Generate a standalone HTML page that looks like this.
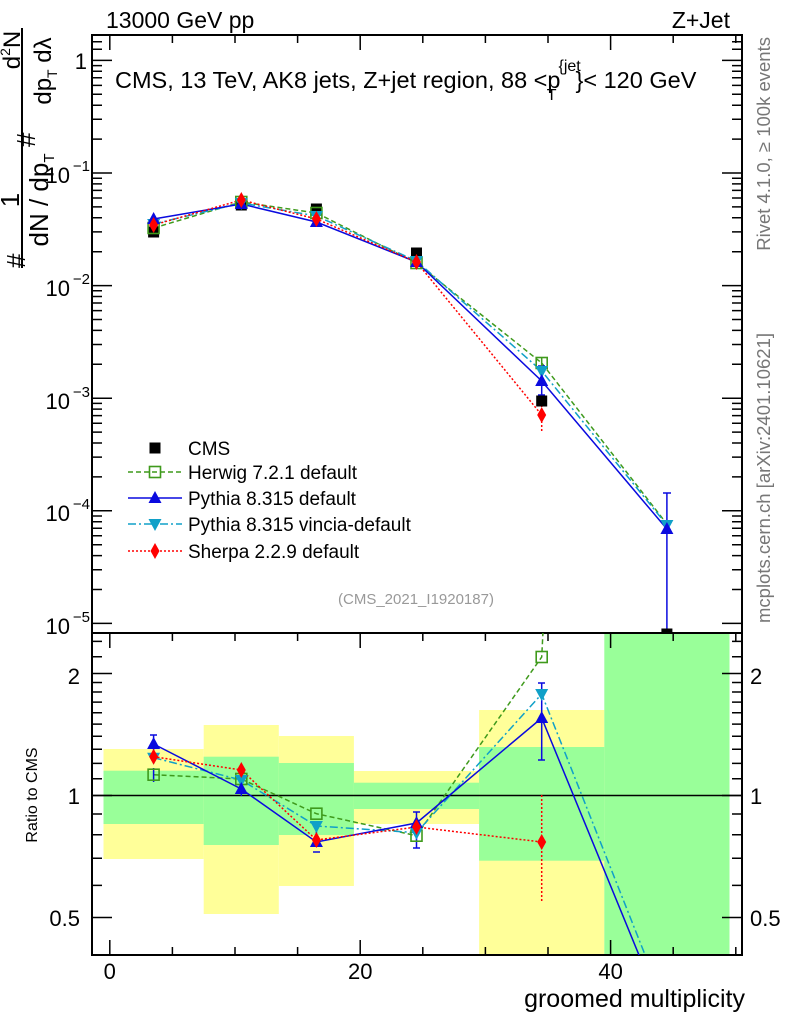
<!DOCTYPE html>
<html><head><meta charset="utf-8"><style>
html,body{margin:0;padding:0;background:#fff;}
svg{display:block;font-family:"Liberation Sans",sans-serif;}
</style></head><body>
<svg width="786" height="1024" viewBox="0 0 786 1024" xmlns="http://www.w3.org/2000/svg">
<defs>
<clipPath id="cm"><rect x="92" y="35" width="650" height="598"/></clipPath>
<clipPath id="cr"><rect x="92" y="633" width="650" height="322"/></clipPath>
<g id="mCMS"><rect x="-5.5" y="-5.5" width="11" height="11" fill="#000"/></g>
<g id="mH"><rect x="-5.5" y="-5.5" width="11" height="11" fill="none" stroke="#3f9a1c" stroke-width="1.6"/></g>
<g id="mP"><path d="M0,-7 L6.5,5 L-6.5,5Z" fill="#0a0adf"/></g>
<g id="mV"><path d="M0,7 L6.5,-5 L-6.5,-5Z" fill="#10a0c8"/></g>
<g id="mS"><path d="M0,-8 L4.5,0 L0,8 L-4.5,0Z" fill="#f00"/></g>
</defs>

<g clip-path="url(#cr)">
<rect x="103.5" y="749" width="100.2" height="110" fill="#ffff99"/>
<rect x="203.7" y="725" width="75.1" height="189" fill="#ffff99"/>
<rect x="278.8" y="736" width="75.1" height="150" fill="#ffff99"/>
<rect x="353.9" y="771" width="125.2" height="53" fill="#ffff99"/>
<rect x="479.1" y="710" width="125.2" height="250" fill="#ffff99"/>
<rect x="103.5" y="770.7" width="100.2" height="53.3" fill="#99ff99"/>
<rect x="203.7" y="756.7" width="75.1" height="88.3" fill="#99ff99"/>
<rect x="278.8" y="763" width="75.1" height="72" fill="#99ff99"/>
<rect x="353.9" y="782.7" width="125.2" height="26.3" fill="#99ff99"/>
<rect x="479.1" y="747" width="125.2" height="113.7" fill="#99ff99"/>
<rect x="604.3" y="633" width="125.2" height="322" fill="#99ff99"/>
</g>

<rect x="92" y="35" width="650" height="598" fill="none" stroke="#000" stroke-width="2"/>
<rect x="92" y="633" width="650" height="322" fill="none" stroke="#000" stroke-width="2"/>
<line x1="92" y1="795.5" x2="742" y2="795.5" stroke="#000" stroke-width="1.5"/>

<g stroke="#000" stroke-width="1.5">
<path d="M109.8,35v15M360.2,35v15M610.6,35v15M172.4,35v8M235,35v8M297.6,35v8M422.8,35v8M485.4,35v8M548,35v8M673.2,35v8M735.8,35v8"/>
<path d="M109.8,633v15M360.2,633v15M610.6,633v15M172.4,633v8M235,633v8M297.6,633v8M422.8,633v8M485.4,633v8M548,633v8M673.2,633v8M735.8,633v8"/>
<path d="M109.8,955v-15M360.2,955v-15M610.6,955v-15M172.4,955v-8M235,955v-8M297.6,955v-8M422.8,955v-8M485.4,955v-8M548,955v-8M673.2,955v-8M735.8,955v-8"/>
</g>

<g stroke="#000" stroke-width="1.5">
<path d="M92,60.4h20M92,173h20M92,285.6h20M92,398.2h20M92,510.8h20M92,623.4h20"/>
<path d="M742,60.4h-20M742,173h-20M742,285.6h-20M742,398.2h-20M742,510.8h-20M742,623.4h-20"/>
<path d="M92,139.1h10M92,119.3h10M92,105.2h10M92,94.3h10M92,85.4h10M92,77.8h10M92,71.3h10M92,65.6h10
M92,251.7h10M92,231.9h10M92,217.8h10M92,206.9h10M92,198h10M92,190.4h10M92,183.9h10M92,178.2h10
M92,364.3h10M92,344.5h10M92,330.4h10M92,319.5h10M92,310.6h10M92,303h10M92,296.5h10M92,290.8h10
M92,476.9h10M92,457.1h10M92,443h10M92,432.1h10M92,423.2h10M92,415.6h10M92,409.1h10M92,403.4h10
M92,589.5h10M92,569.7h10M92,555.6h10M92,544.7h10M92,535.8h10M92,528.2h10M92,521.7h10M92,516h10
M92,49.3h10M92,41.7h10"/>
<path d="M742,139.1h-10M742,119.3h-10M742,105.2h-10M742,94.3h-10M742,85.4h-10M742,77.8h-10M742,71.3h-10M742,65.6h-10
M742,251.7h-10M742,231.9h-10M742,217.8h-10M742,206.9h-10M742,198h-10M742,190.4h-10M742,183.9h-10M742,178.2h-10
M742,364.3h-10M742,344.5h-10M742,330.4h-10M742,319.5h-10M742,310.6h-10M742,303h-10M742,296.5h-10M742,290.8h-10
M742,476.9h-10M742,457.1h-10M742,443h-10M742,432.1h-10M742,423.2h-10M742,415.6h-10M742,409.1h-10M742,403.4h-10
M742,589.5h-10M742,569.7h-10M742,555.6h-10M742,544.7h-10M742,535.8h-10M742,528.2h-10M742,521.7h-10M742,516h-10
M742,49.3h-10M742,41.7h-10"/>
</g>

<g stroke="#000" stroke-width="1.5">
<path d="M92,795.5h20M92,673.5h20M92,917.5h20M742,795.5h-20M742,673.5h-20M742,917.5h-20"/>
<path d="M92,885.4h10M92,858.3h10M92,834.8h10M92,814h10M92,778.7h10M92,763.4h10M92,749.3h10M92,736.3h10M92,724.1h10M92,712.8h10M92,702.1h10M92,692h10M92,682.5h10M92,656.7h10M92,641.4h10"/>
<path d="M742,885.4h-10M742,858.3h-10M742,834.8h-10M742,814h-10M742,778.7h-10M742,763.4h-10M742,749.3h-10M742,736.3h-10M742,724.1h-10M742,712.8h-10M742,702.1h-10M742,692h-10M742,682.5h-10M742,656.7h-10M742,641.4h-10"/>
</g>

<g clip-path="url(#cm)" fill="none" stroke-width="1.5">
<polyline points="153.6,228 241.3,202 316.4,213 416.5,263 541.7,363 666.9,524" stroke="#3f9a1c" stroke-dasharray="5,3"/>
<polyline points="153.6,224 241.3,203 316.4,216 416.5,261 541.7,371 666.9,525" stroke="#10a0c8" stroke-dasharray="8,3,2,3"/>
<polyline points="153.6,219 241.3,204 316.4,222 416.5,262 541.7,381 666.9,529" stroke="#0a0adf"/>
<polyline points="153.6,225 241.3,200 316.4,219 416.5,262 541.7,415" stroke="#f00" stroke-dasharray="2,2"/>
<path d="M541.7,397v35" stroke="#f00" stroke-dasharray="2,2"/>
<path d="M541.7,366v29M538,366h7M538,395h7" stroke="#0a0adf"/>
<path d="M666.9,493v140M663,493h8" stroke="#0a0adf"/>
<path d="M541.7,357v10" stroke="#3f9a1c"/>
</g>
<g clip-path="url(#cm)">
<use href="#mCMS" x="153.6" y="232"/><use href="#mCMS" x="241.3" y="205"/><use href="#mCMS" x="316.4" y="209"/><use href="#mCMS" x="416.5" y="253"/><use href="#mCMS" x="541.7" y="401"/><use href="#mCMS" x="666.9" y="634"/>
<use href="#mH" x="153.6" y="228"/><use href="#mH" x="241.3" y="202"/><use href="#mH" x="316.4" y="213"/><use href="#mH" x="416.5" y="263"/><use href="#mH" x="541.7" y="363"/>
<use href="#mV" x="153.6" y="224"/><use href="#mV" x="241.3" y="203"/><use href="#mV" x="316.4" y="216"/><use href="#mV" x="416.5" y="261"/><use href="#mV" x="541.7" y="371"/><use href="#mV" x="666.9" y="525"/>
<use href="#mP" x="153.6" y="219"/><use href="#mP" x="241.3" y="204"/><use href="#mP" x="316.4" y="222"/><use href="#mP" x="416.5" y="262"/><use href="#mP" x="541.7" y="381"/><use href="#mP" x="666.9" y="529"/>
<use href="#mS" x="153.6" y="225"/><use href="#mS" x="241.3" y="200"/><use href="#mS" x="316.4" y="219"/><use href="#mS" x="416.5" y="262"/><use href="#mS" x="541.7" y="415"/>
</g>

<g clip-path="url(#cr)" fill="none" stroke-width="1.5">
<polyline points="153.6,774.7 241.3,779 316.4,813.7 416.5,835.7 541.7,657 560,300" stroke="#3f9a1c" stroke-dasharray="5,3"/>
<polyline points="153.6,757.7 241.3,780 316.4,826 416.5,832.7 541.7,694 666.9,1010" stroke="#10a0c8" stroke-dasharray="8,3,2,3"/>
<polyline points="153.6,744 241.3,789 316.4,842 416.5,823 541.7,718 666.9,1023" stroke="#0a0adf"/>
<polyline points="153.6,756.7 241.3,770 316.4,840 416.5,827 541.7,842" stroke="#f00" stroke-dasharray="2,2"/>
<path d="M541.7,795v107" stroke="#f00" stroke-dasharray="2,2"/>
<path d="M541.7,683v77M538,683h7M538,760h7" stroke="#0a0adf"/>
<path d="M153.6,735v18M150,735h7M241.3,780v16M316.4,830v14M313,852h7M416.5,812v22M413,812h7M416.5,830v18M413,848h7M153.6,768v14" stroke="#0a0adf"/>
</g>
<g clip-path="url(#cr)">
<use href="#mH" x="153.6" y="774.7"/><use href="#mH" x="241.3" y="779"/><use href="#mH" x="316.4" y="813.7"/><use href="#mH" x="416.5" y="835.7"/><use href="#mH" x="541.7" y="657"/>
<use href="#mV" x="153.6" y="757.7"/><use href="#mV" x="241.3" y="780"/><use href="#mV" x="316.4" y="826"/><use href="#mV" x="416.5" y="832.7"/><use href="#mV" x="541.7" y="694"/>
<use href="#mP" x="153.6" y="744"/><use href="#mP" x="241.3" y="789"/><use href="#mP" x="316.4" y="842"/><use href="#mP" x="416.5" y="823"/><use href="#mP" x="541.7" y="718"/>
<use href="#mS" x="153.6" y="756.7"/><use href="#mS" x="241.3" y="770"/><use href="#mS" x="316.4" y="840"/><use href="#mS" x="416.5" y="827"/><use href="#mS" x="541.7" y="842"/>
</g>

<g font-size="19">
<use href="#mCMS" x="155" y="448"/><text x="188" y="455">CMS</text>
<line x1="128" y1="472" x2="182" y2="472" stroke="#3f9a1c" stroke-width="1.5" stroke-dasharray="5,3"/><use href="#mH" x="155" y="472"/><text x="188" y="479">Herwig 7.2.1 default</text>
<line x1="128" y1="498" x2="182" y2="498" stroke="#0a0adf" stroke-width="1.5"/><use href="#mP" x="155" y="498"/><text x="188" y="505">Pythia 8.315 default</text>
<line x1="128" y1="524" x2="182" y2="524" stroke="#10a0c8" stroke-width="1.5" stroke-dasharray="8,3,2,3"/><use href="#mV" x="155" y="524"/><text x="188" y="531">Pythia 8.315 vincia-default</text>
<line x1="128" y1="551" x2="182" y2="551" stroke="#f00" stroke-width="1.5" stroke-dasharray="2,2"/><use href="#mS" x="155" y="551"/><text x="188" y="558">Sherpa 2.2.9 default</text>
</g>

<text x="106" y="28" font-size="23">13000 GeV pp</text>
<text x="730" y="28" font-size="23" text-anchor="end">Z+Jet</text>
<text x="115" y="88" font-size="23.5">CMS, 13 TeV, AK8 jets, Z+jet region, 88 &lt;p<tspan font-size="16" dx="-2" dy="-17">{jet</tspan><tspan font-size="16" dx="-34" dy="29">T</tspan><tspan dx="19" dy="-12">}&lt; 120 GeV</tspan></text>
<text x="416" y="604" font-size="15" fill="#999" text-anchor="middle">(CMS_2021_I1920187)</text>

<g font-size="22" text-anchor="end">
<text x="87" y="69">1</text>
<text x="70" y="183">10</text><text x="90" y="171" font-size="15">−1</text>
<text x="70" y="296">10</text><text x="90" y="284" font-size="15">−2</text>
<text x="70" y="409">10</text><text x="90" y="397" font-size="15">−3</text>
<text x="70" y="521">10</text><text x="90" y="509" font-size="15">−4</text>
<text x="70" y="634">10</text><text x="90" y="622" font-size="15">−5</text>
<text x="80" y="684">2</text>
<text x="80" y="804">1</text>
<text x="80" y="926">0.5</text>
</g>
<g font-size="22">
<text x="750" y="684">2</text>
<text x="750" y="804">1</text>
<text x="750" y="926">0.5</text>
</g>
<g font-size="22" text-anchor="middle">
<text x="109.8" y="979">0</text><text x="360.2" y="979">20</text><text x="610.6" y="979">40</text>
</g>
<text x="745" y="1007" font-size="25" text-anchor="end">groomed multiplicity</text>
<text transform="translate(37,795) rotate(-90)" font-size="16" text-anchor="middle">Ratio to CMS</text>

<g transform="rotate(-90)" font-size="26">
<text x="-268" y="25">#</text>
<text x="-200" y="19" text-anchor="middle">1</text>
<text x="-200" y="48" text-anchor="middle">dN / dp<tspan font-size="15" dy="6">T</tspan></text>
<text x="-147" y="35">#</text>
<text x="-50" y="20" font-size="24" text-anchor="middle">d<tspan font-size="14" dy="-10">2</tspan><tspan dy="10">N</tspan></text>
<text x="-71" y="51" font-size="24" text-anchor="middle">dp<tspan font-size="14" dy="6">T</tspan><tspan dy="-6">  dλ</tspan></text>
</g>
<line x1="22" y1="28" x2="22" y2="268" stroke="#000" stroke-width="2"/>

<g transform="rotate(-90)" font-size="18.5" fill="#777" text-anchor="end">
<text x="-37" y="770">Rivet 4.1.0, ≥ 100k events</text>
<text x="-333" y="770">mcplots.cern.ch [arXiv:2401.10621]</text>
</g>
</svg>
</body></html>
